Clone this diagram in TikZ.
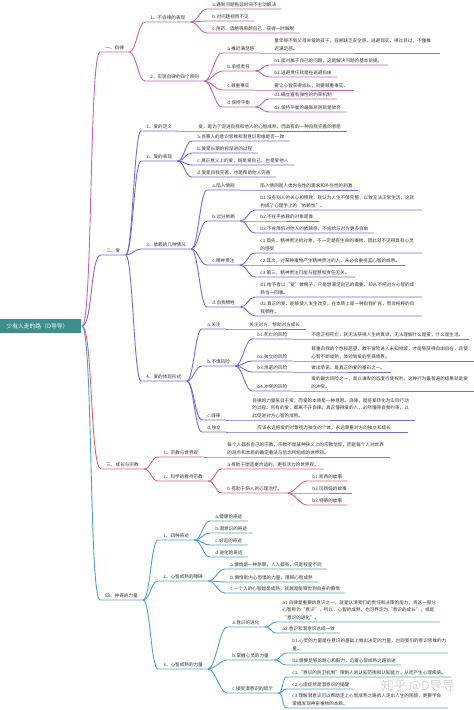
\documentclass[tikz,border=0pt]{standalone}
\usepackage{fontspec}
\newfontfamily\cjk{Noto Sans CJK SC}
\setlength\parindent{0pt}
\definecolor{zlcol}{RGB}{196,98,186}
\definecolor{aicol}{RGB}{122,104,222}
\definecolor{zjcol}{RGB}{226,98,110}
\definecolor{sqcol}{RGB}{78,158,214}
\definecolor{rootcol}{RGB}{62,142,140}
\tikzset{
  topic/.style={anchor=south west, inner xsep=5pt, inner ysep=1.5pt, text=black!80,
    font=\cjk\fontsize{4.6}{7.8}\selectfont},
  para/.style={topic, text width=#1, align=left},
  root/.style={anchor=west, fill=rootcol, text=white, minimum height=14pt,
    inner xsep=6pt, text width=69pt, align=left, font=\cjk\fontsize{5.8}{7}\selectfont},
  wmark/.style={text=gray!45, opacity=0.8, inner sep=0pt, font=\cjk\fontsize{12.5}{14}\selectfont},
  br/.style={to path={(\tikztostart.south east) .. controls +(#1,0) and +(-#1,0) .. (\tikztotarget.south west) -- (\tikztotarget.south east)}},
  br/.default=7,
  trunk/.style={to path={(\tikztostart.east) .. controls +(11,0) and +(-11,0) .. (\tikztotarget.south west) -- (\tikztotarget.south east)}}
}
\begin{document}
\begin{tikzpicture}[x=1pt,y=-1pt,line width=0.9pt]
\useasboundingbox (0,0) rectangle (474,710);
% root
\node[root] (root) at (0,326) {少有人走的路（D导导）};
% 一、自律
\node[topic] (zl) at (100,52) {一、自律};
\node[topic] (zl1) at (145,22) {1、不自律的表现};
\node[topic] (zl1a) at (207,9) {a.遇到问题拖延时间不主动解决};
\node[topic] (zl1b) at (207,21) {b.对问题视而不见};
\node[topic] (zl1c) at (207,33) {c.用药、酒精等麻醉自己，获得一时解脱};
\node[topic] (zl2) at (145,81) {2、实现自律的四个原则};
\node[topic] (zl2a) at (222,53) {a.推迟满足感};
\node[para=160pt] (zl2a1) at (269,53) {童年得不到父母关爱的孩子，容易缺乏安全感，逃避现实，得过且过，不懂推\\迟满足感。};
\node[topic] (zl2b) at (222,71) {b.承担责任};
\node[topic] (zl2b1) at (269,65) {b1.面对属于自己的问题，这是解决问题的基本前提。};
\node[topic] (zl2b2) at (269,77) {b2.逃避责任就是在逃避自由};
\node[topic] (zl2c) at (222,90) {c.尊重事实};
\node[topic] (zl2c1) at (269,90) {要让心智获得成长，就要尊重事实。};
\node[topic] (zl2d) at (222,107) {d.保持平衡};
\node[topic] (zl2d1) at (269,99) {d1.确立富有弹性的约束机制};
\node[topic] (zl2d2) at (269,112) {d2.保持平衡的最高原则就是放弃};
% 二、爱
\node[topic] (ai) at (101,255) {二、爱};
\node[topic] (ai1) at (141,131) {1、爱的定义};
\node[topic] (ai1a) at (193,131) {爱，是为了促进自我和他人的心智成熟，而具有的一种自我完善的意愿};
\node[topic] (ai2) at (141,161) {2、爱的表现};
\node[topic] (ai2a) at (192,141) {a.当事人的意识思维和潜意识思维是否一致};
\node[topic] (ai2b) at (192,153) {b.爱是长期的和渐进的过程};
\node[topic] (ai2c) at (192,165) {c.真正意义上的爱，既是爱自己，也是爱他人};
\node[topic] (ai2d) at (192,177) {d.爱是自我完善，也是帮助他人完善};
\node[topic] (ai3) at (141,249) {3、依赖的几种情况};
\node[topic] (ai3a) at (207,190) {a.陷入情网};
\node[topic] (ai3a1) at (255,190) {陷入情网是人类内在性的需求和外在性的刺激};
\node[topic] (ai3b) at (207,221) {b.过分依赖};
\node[para=156pt] (ai3b1) at (255,210) {b1.没有别人的关心和照顾，就认为人生不够完整，以致无法正常生活，这就\\构成了心理学上的“依赖性”。};
\node[topic] (ai3b2) at (255,221) {b2.不在乎依赖的对象是谁};
\node[topic] (ai3b3) at (255,233) {b3.不肯降低对他人的依赖感，不肯给与对方更多自由};
\node[topic] (ai3c) at (207,265) {c.精神贯注};
\node[para=156pt] (ai3c1) at (255,253) {c1.首先，精神贯注的对象，不一定是有生命的事物，因此就不见得具有心灵\\的感受};
\node[topic] (ai3c2) at (255,265) {c2.其次，对某种事物产生精神贯注的人，未必会重视其心智的成熟。};
\node[topic] (ai3c3) at (255,277) {c3.第三，精神贯注可能与智慧和责任无关。};
\node[topic] (ai3d) at (207,307) {d.自我牺牲};
\node[para=156pt] (ai3d1) at (255,297) {d1.给予者以“爱”做幌子，只是想满足自己的需要，却从不把对方心智的成\\熟当一回事。};
\node[para=156pt] (ai3d2) at (255,316) {d2.真正的爱，能够使人发生改变，在本质上是一种自我扩充，而非纯粹的自\\我牺牲。};
\node[topic] (ai4) at (141,381) {4、爱的体现形式};
\node[topic] (ai4a) at (202,329) {a.关注};
\node[topic] (ai4a1) at (244,329) {关注对方，帮助对方成长};
\node[topic] (ai4b) at (202,366) {b.不惧风险};
\node[topic] (ai4b1) at (252,339) {b1.死亡的风险};
\node[topic] (ai4b1a) at (306,339) {不愿正视死亡，就无法获得人生的真谛，无法理解什么是爱，什么是生活。};
\node[topic] (ai4b2) at (252,361) {b2.独立的风险};
\node[para=157pt] (ai4b2a) at (306,361) {尊重自我的个性和愿望，敢于冒险进入未知领域，才能够获得自由自在，且使\\心智不断成熟，体验到爱的至高境界。};
\node[topic] (ai4b3) at (252,372) {b3.承诺的风险};
\node[topic] (ai4b3a) at (306,372) {做出承诺，是真正的爱的基石之一。};
\node[topic] (ai4b4) at (252,391) {b4.冲突的风险};
\node[para=157pt] (ai4b4a) at (306,391) {爱的最大风险之一，是以谦卑的态度行使权利，这种行为最普遍的结果就是爱\\的冲突。};
\node[topic] (ai4c) at (202,420) {c.自律};
\node[para=157pt] (ai4c1) at (247,420) {自律的力量来自于爱，而爱的本质是一种意愿。自律，是将爱转化为实际行动\\的过程。所有的爱，都离不开自律。真正懂得爱的人，必然懂得自我约束，以\\此促进对方心智的成熟。};
\node[topic] (ai4d) at (202,432) {d.独立};
\node[para=145pt] (ai4d1) at (252,432) {应该永远把爱的对象视为独立的个体，永远尊重对方的独立和成长};
% 三、成长与宗教
\node[topic] (zj) at (101,469) {三、成长与宗教};
\node[topic] (zj1) at (158,457) {1、宗教与世界观};
\node[para=157pt] (zj1a) at (222,457) {每个人都有自己的宗教，宗教不是某种狭义上的宗教信仰，而是每个人对世界\\的观点和本质的确定看法与信念所组成的世界观。};
\node[topic] (zj2) at (158,481) {2、科学的看待宗教};
\node[topic] (zj2a) at (222,469) {a.有助于塑造更合适的，更有活力的世界观。};
\node[topic] (zj2b) at (222,493) {b.有助于病人的心理治疗。};
\node[topic] (zj2b1) at (307,481) {b1.凯西的故事};
\node[topic] (zj2b2) at (307,493) {b2.玛西娅的故事};
\node[topic] (zj2b3) at (307,505) {b3.特德的故事};
% 四、神奇的力量
\node[topic] (sq) at (100,600) {四、神奇的力量};
\node[topic] (sq1) at (158,540) {1、四种奇迹};
\node[topic] (sq1a) at (210,521) {a.健康的奇迹};
\node[topic] (sq1b) at (210,533) {b.潜意识的奇迹};
\node[topic] (sq1c) at (210,545) {c.好运的奇迹};
\node[topic] (sq1d) at (210,557) {d.进化的奇迹};
\node[topic] (sq2) at (158,581) {2、心智成熟的障碍};
\node[topic] (sq2a) at (225,569) {a.懒惰是一种原罪，人人都有，只是程度不同};
\node[topic] (sq2b) at (225,582) {b.懒惰是内心恐惧的力量，阻碍心智成熟};
\node[topic] (sq2c) at (225,593) {c.一个人的心智越是成熟，就越是能察觉到自身的懒惰};
\node[topic] (sq3) at (158,669) {3、心智成熟的力量};
\node[topic] (sq3a) at (227,627) {a.意识的进化};
\node[para=152pt] (sq3a1) at (277,622) {a1.自律是重要的意识之一，就是认清我们的责任和决策的能力，将这一部分\\心智称为“意识”，所以，心智的成熟，也可界定为“意识的成长”，或是\\“意识的进化”。};
\node[topic] (sq3a2) at (277,633) {a2.意识和潜意识达成一致};
\node[topic] (sq3b) at (227,660) {b.掌握心灵的力量};
\node[para=150pt] (sq3b1) at (287,653) {b1.心灵的力量是在意识的基础上做出决定的力量，也即我们的意识思维的力\\量。};
\node[topic] (sq3b2) at (287,665) {b2.需要足够的耐心和毅力，迈着心智成熟之路前进};
\node[topic] (sq3c) at (227,693) {c.接受潜意识的暗示};
\node[topic] (sq3c1) at (287,677) {c1.“意识的防卫机制”限制人的认知范围和认知能力，从而产生心理疾病。};
\node[topic] (sq3c2) at (287,689) {c2.心理症状是潜意识的提醒};
\node[para=150pt] (sq3c3) at (287,708) {c3.理解潜意识可以帮助走上心智成熟之路的人走出人生的困境，更要学会\\掌握发现神奇事物的本质。};
% watermark
\node[wmark] (wm) at (418,686) {知乎 @D导导};
% main branches
\draw[zlcol] (root) to[trunk] (zl);
\draw[aicol] (root) to[trunk] (ai);
\draw[zjcol] (root) to[trunk] (zj);
\draw[sqcol] (root) to[trunk] (sq);
% edges of 一
\draw[zlcol] (zl) to[br] (zl1);
\draw[zlcol] (zl) to[br] (zl2);
\draw[zlcol] (zl1) to[br] (zl1a);
\draw[zlcol] (zl1) to[br] (zl1b);
\draw[zlcol] (zl1) to[br] (zl1c);
\draw[zlcol] (zl2) to[br] (zl2a);
\draw[zlcol] (zl2) to[br] (zl2b);
\draw[zlcol] (zl2) to[br] (zl2c);
\draw[zlcol] (zl2) to[br] (zl2d);
\draw[zlcol] (zl2a) to[br] (zl2a1);
\draw[zlcol] (zl2b) to[br] (zl2b1);
\draw[zlcol] (zl2b) to[br] (zl2b2);
\draw[zlcol] (zl2c) to[br] (zl2c1);
\draw[zlcol] (zl2d) to[br] (zl2d1);
\draw[zlcol] (zl2d) to[br] (zl2d2);
% edges of 二
\draw[aicol] (ai) to[br] (ai1);
\draw[aicol] (ai) to[br] (ai2);
\draw[aicol] (ai) to[br] (ai3);
\draw[aicol] (ai) to[br] (ai4);
\draw[aicol] (ai1) to[br] (ai1a);
\draw[aicol] (ai2) to[br] (ai2a);
\draw[aicol] (ai2) to[br] (ai2b);
\draw[aicol] (ai2) to[br] (ai2c);
\draw[aicol] (ai2) to[br] (ai2d);
\draw[aicol] (ai3) to[br] (ai3a);
\draw[aicol] (ai3) to[br] (ai3b);
\draw[aicol] (ai3) to[br] (ai3c);
\draw[aicol] (ai3) to[br] (ai3d);
\draw[aicol] (ai3a) to[br] (ai3a1);
\draw[aicol] (ai3b) to[br] (ai3b1);
\draw[aicol] (ai3b) to[br] (ai3b2);
\draw[aicol] (ai3b) to[br] (ai3b3);
\draw[aicol] (ai3c) to[br] (ai3c1);
\draw[aicol] (ai3c) to[br] (ai3c2);
\draw[aicol] (ai3c) to[br] (ai3c3);
\draw[aicol] (ai3d) to[br] (ai3d1);
\draw[aicol] (ai3d) to[br] (ai3d2);
\draw[aicol] (ai4) to[br] (ai4a);
\draw[aicol] (ai4) to[br] (ai4b);
\draw[aicol] (ai4) to[br] (ai4c);
\draw[aicol] (ai4) to[br] (ai4d);
\draw[aicol] (ai4a) to[br] (ai4a1);
\draw[aicol] (ai4b) to[br] (ai4b1);
\draw[aicol] (ai4b) to[br] (ai4b2);
\draw[aicol] (ai4b) to[br] (ai4b3);
\draw[aicol] (ai4b) to[br] (ai4b4);
\draw[aicol] (ai4b1) to[br] (ai4b1a);
\draw[aicol] (ai4b2) to[br] (ai4b2a);
\draw[aicol] (ai4b3) to[br] (ai4b3a);
\draw[aicol] (ai4b4) to[br] (ai4b4a);
\draw[aicol] (ai4c) to[br] (ai4c1);
\draw[aicol] (ai4d) to[br] (ai4d1);
% edges of 三
\draw[zjcol] (zj) to[br] (zj1);
\draw[zjcol] (zj) to[br] (zj2);
\draw[zjcol] (zj1) to[br] (zj1a);
\draw[zjcol] (zj2) to[br] (zj2a);
\draw[zjcol] (zj2) to[br] (zj2b);
\draw[zjcol] (zj2b) to[br] (zj2b1);
\draw[zjcol] (zj2b) to[br] (zj2b2);
\draw[zjcol] (zj2b) to[br] (zj2b3);
% edges of 四
\draw[sqcol] (sq) to[br] (sq1);
\draw[sqcol] (sq) to[br] (sq2);
\draw[sqcol] (sq) to[br] (sq3);
\draw[sqcol] (sq1) to[br] (sq1a);
\draw[sqcol] (sq1) to[br] (sq1b);
\draw[sqcol] (sq1) to[br] (sq1c);
\draw[sqcol] (sq1) to[br] (sq1d);
\draw[sqcol] (sq2) to[br] (sq2a);
\draw[sqcol] (sq2) to[br] (sq2b);
\draw[sqcol] (sq2) to[br] (sq2c);
\draw[sqcol] (sq3) to[br] (sq3a);
\draw[sqcol] (sq3) to[br] (sq3b);
\draw[sqcol] (sq3) to[br] (sq3c);
\draw[sqcol] (sq3a) to[br] (sq3a1);
\draw[sqcol] (sq3a) to[br] (sq3a2);
\draw[sqcol] (sq3b) to[br] (sq3b1);
\draw[sqcol] (sq3b) to[br] (sq3b2);
\draw[sqcol] (sq3c) to[br=5] (sq3c1);
\draw[sqcol] (sq3c) to[br=5] (sq3c2);
\draw[sqcol] (sq3c) to[br=5] (sq3c3);
\end{tikzpicture}
\end{document}
